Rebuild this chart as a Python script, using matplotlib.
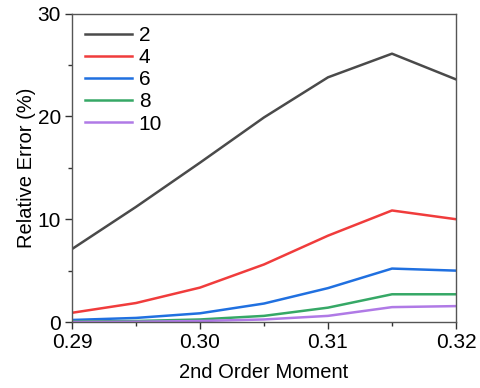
import matplotlib
matplotlib.use("Agg")
import matplotlib.pyplot as plt
from matplotlib.ticker import MultipleLocator, FormatStrFormatter

plt.rcParams['font.family'] = ['Liberation Sans', 'DejaVu Sans']

moment = [0.29, 0.295, 0.30, 0.305, 0.31, 0.315, 0.32]
err_2 = [7.1, 11.2, 15.5, 19.9, 23.8, 26.1, 23.6]
err_4 = [0.9, 1.85, 3.35, 5.6, 8.4, 10.85, 10.0]
err_6 = [0.2, 0.4, 0.85, 1.8, 3.3, 5.2, 5.0]
err_8 = [0.05, 0.1, 0.25, 0.6, 1.4, 2.7, 2.7]
err_10 = [0.0, 0.03, 0.1, 0.25, 0.6, 1.45, 1.55]

series = [("2", err_2, "#4a4a4a"),
          ("4", err_4, "#f03c3c"),
          ("6", err_6, "#2070e0"),
          ("8", err_8, "#36a866"),
          ("10", err_10, "#b07ae6")]

fig = plt.figure(figsize=(4.81, 3.88), dpi=100)
ax = fig.add_axes([0.1497, 0.170, 0.7983, 0.795])

for name, vals, col in series:
    ax.plot(moment, vals, color=col, lw=1.8, label=name)

ax.set_xlim(0.29, 0.32)
ax.set_ylim(0, 30)
ax.xaxis.set_major_locator(MultipleLocator(0.01))
ax.xaxis.set_minor_locator(MultipleLocator(0.005))
ax.yaxis.set_major_locator(MultipleLocator(10))
ax.yaxis.set_minor_locator(MultipleLocator(5))
ax.xaxis.set_major_formatter(FormatStrFormatter('%.2f'))

ax.tick_params(axis='both', which='major', direction='out', length=5, width=1,
               labelsize=15, color='#333333', pad=3)
ax.tick_params(axis='both', which='minor', direction='out', length=3, width=1,
               color='#333333')
ax.tick_params(top=False, right=False, which='both')
for sp in ax.spines.values():
    sp.set_color('#555555')
    sp.set_linewidth(1.0)

ax.set_xlabel("2nd Order Moment", fontsize=14.5, labelpad=8)
ax.set_ylabel("Relative Error (%)", fontsize=14.5, labelpad=1)

ax.legend(loc='upper left', frameon=False, fontsize=15, handlelength=2.3,
          handletextpad=0.3, labelspacing=0.15, borderaxespad=0.2,
          bbox_to_anchor=(0.0, 1.0))

fig.savefig("out.png", dpi=100)
